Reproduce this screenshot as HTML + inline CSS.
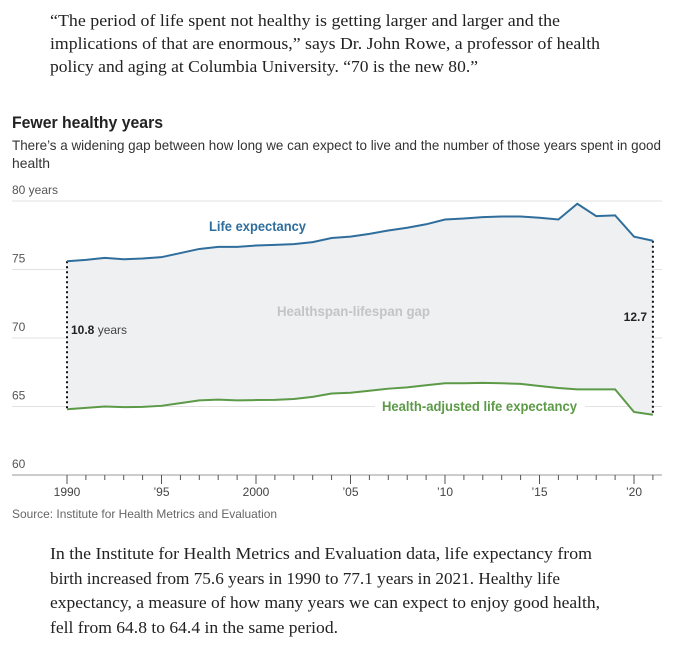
<!DOCTYPE html>
<html><head><meta charset="utf-8"><style>
html,body{margin:0;padding:0;background:#fff;width:678px;height:650px;overflow:hidden}
svg{display:block}
.serif{font-family:"Liberation Serif",serif;fill:#222;font-size:17px}
.sans{font-family:"Liberation Sans",sans-serif}
</style></head><body>
<svg id="chart" width="678" height="650">
<text class="serif" x="50" y="26" textLength="510" lengthAdjust="spacingAndGlyphs">“The period of life spent not healthy is getting larger and larger and the</text>
<text class="serif" x="50" y="49" textLength="550" lengthAdjust="spacingAndGlyphs">implications of that are enormous,” says Dr. John Rowe, a professor of health</text>
<text class="serif" x="50" y="72" textLength="428" lengthAdjust="spacingAndGlyphs">policy and aging at Columbia University. “70 is the new 80.”</text>
<text class="sans" x="12" y="128" font-size="17" font-weight="bold" fill="#222" textLength="151" lengthAdjust="spacingAndGlyphs">Fewer healthy years</text>
<text class="sans" x="12" y="150" font-size="14" fill="#333" textLength="649" lengthAdjust="spacingAndGlyphs">There’s a widening gap between how long we can expect to live and the number of those years spent in good</text>
<text class="sans" x="12" y="168" font-size="14" fill="#333" textLength="38" lengthAdjust="spacingAndGlyphs">health</text>
<g id="plot"></g>
<text class="sans" x="12" y="518" font-size="12" fill="#666" textLength="265" lengthAdjust="spacingAndGlyphs">Source: Institute for Health Metrics and Evaluation</text>
<text class="serif" x="50" y="559" textLength="542" lengthAdjust="spacingAndGlyphs">In the Institute for Health Metrics and Evaluation data, life expectancy from</text>
<text class="serif" x="50" y="584" textLength="510" lengthAdjust="spacingAndGlyphs">birth increased from 75.6 years in 1990 to 77.1 years in 2021. Healthy life</text>
<text class="serif" x="50" y="608" textLength="550" lengthAdjust="spacingAndGlyphs">expectancy, a measure of how many years we can expect to enjoy good health,</text>
<text class="serif" x="50" y="633" textLength="288" lengthAdjust="spacingAndGlyphs">fell from 64.8 to 64.4 in the same period.</text>
</svg>
<script>
const years=[1990,1991,1992,1993,1994,1995,1996,1997,1998,1999,2000,2001,2002,2003,2004,2005,2006,2007,2008,2009,2010,2011,2012,2013,2014,2015,2016,2017,2018,2019,2020,2021];
const lifeExp=[75.6,75.7,75.85,75.75,75.8,75.9,76.2,76.5,76.65,76.65,76.75,76.8,76.85,77.0,77.3,77.4,77.6,77.85,78.05,78.3,78.65,78.72,78.82,78.87,78.87,78.78,78.65,79.8,78.9,78.95,77.4,77.1];
const hale=[64.8,64.9,65.0,64.95,64.97,65.05,65.25,65.45,65.5,65.45,65.47,65.48,65.55,65.7,65.95,66.0,66.15,66.3,66.4,66.55,66.7,66.7,66.72,66.7,66.65,66.5,66.35,66.25,66.25,66.25,64.6,64.4];
const yTicks=[60,65,70,75,80];
const yTickLabels=["60","65","70","75","80 years"];
const xTickYears=[1990,1995,2000,2005,2010,2015,2020];
const xTickLabels=["1990","’95","2000","’05","’10","’15","’20"];
const NS="http://www.w3.org/2000/svg";
const g=document.getElementById('plot');
const X=y=>67+(y-1990)*18.9;
const Y=v=>475-(v-60)*13.7;
function mk(tag,attrs,parent){const e=document.createElementNS(NS,tag);for(const k in attrs)e.setAttribute(k,attrs[k]);(parent||g).appendChild(e);return e;}
yTicks.forEach((t,i)=>{
  const l=mk('line',{x1:12,x2:662,y1:Y(t),y2:Y(t),stroke:i===0?'#999':'#e2e2e2','stroke-width':1});
  
  
  const tx=mk('text',{x:12,y:Y(t)-7,'font-size':12,fill:'#555','font-family':'"Liberation Sans",sans-serif'});
  tx.textContent=yTickLabels[i];
  
  
});
let d='M'+years.map((y,i)=>X(y)+','+Y(lifeExp[i])).join('L');
for(let i=years.length-1;i>=0;i--)d+='L'+X(years[i])+','+Y(hale[i]);
const area=mk('path',{d:d+'Z',fill:'#eef0f2'});


years.forEach(y=>{
  const major=xTickYears.includes(y);
  const t=mk('line',{x1:X(y),x2:X(y),y1:475,y2:major?484:480,stroke:'#555','stroke-width':1});
  
  
});
xTickYears.forEach((y,i)=>{
  const t=mk('text',{x:X(y),y:496,'font-size':12,fill:'#444','text-anchor':'middle','font-family':'"Liberation Sans",sans-serif'});
  t.textContent=xTickLabels[i];
  
  
});
[0,years.length-1].forEach(i=>{
  const l=mk('line',{x1:X(years[i]),x2:X(years[i]),y1:Y(lifeExp[i]),y2:Y(hale[i]),stroke:'#111','stroke-width':2,'stroke-dasharray':'2,3'});
  
  
});
const bg=mk('rect',{x:375,y:396,width:210,height:20,fill:'#fff'});


const le=mk('polyline',{points:years.map((y,i)=>X(y)+','+Y(lifeExp[i])).join(' '),fill:'none',stroke:'#2f6e9c','stroke-width':2});


const hl=mk('polyline',{points:years.map((y,i)=>X(y)+','+Y(hale[i])).join(' '),fill:'none',stroke:'#5c9a48','stroke-width':2});


function lab(txt,x,y,fill,size,w,anchor,name,bold){
  const t=mk('text',{x:x,y:y,'font-size':size,fill:fill,'font-family':'"Liberation Sans",sans-serif','font-weight':bold?'bold':'normal','text-anchor':anchor||'start'});
  if(w){t.setAttribute('textLength',w);t.setAttribute('lengthAdjust','spacingAndGlyphs');}
  t.textContent=txt;
  
  
  return t;
}
lab('Life expectancy',209,231,'#2f6e9c',14,97,'start','life-expectancy-label',true);
lab('Healthspan-lifespan gap',277,316,'#c4c4c4',14,153,'start','gap-label',true);
lab('Health-adjusted life expectancy',382,411,'#5c9a48',14,195,'start','hale-label',true);
const t1=lab('',71,334,'#222',12,null,'start','gap-1990-label',false);
const b=document.createElementNS(NS,'tspan');b.setAttribute('font-weight','bold');b.textContent='10.8';t1.appendChild(b);
const r=document.createElementNS(NS,'tspan');r.textContent=' years';r.setAttribute('fill','#444');t1.appendChild(r);
lab('12.7',647,321,'#222',12,null,'end','gap-2021-label',true);
</script>
</body></html>
